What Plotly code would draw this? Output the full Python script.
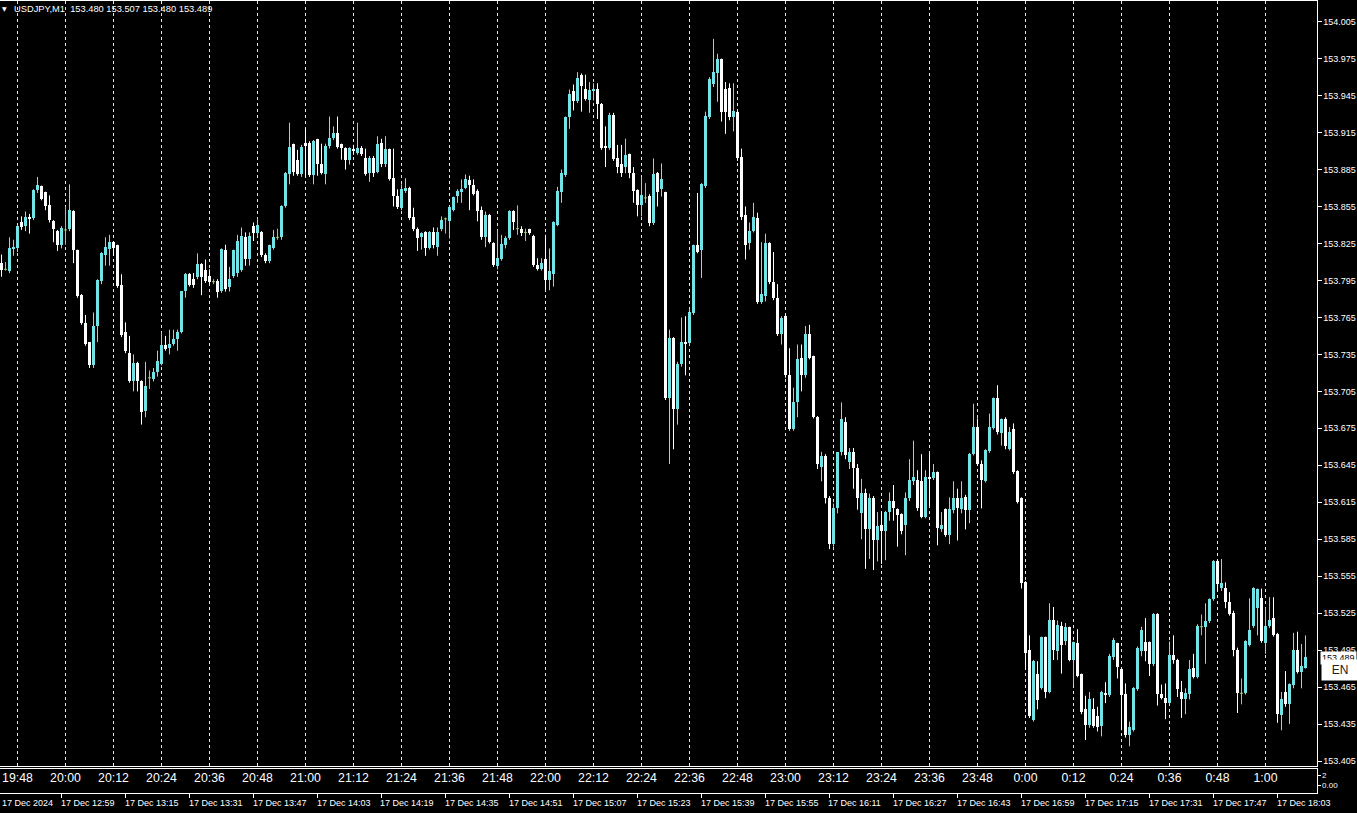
import numpy as np
import pandas as pd
import plotly.graph_objects as go

symbol = "USDJPY,M1"
first_bar_time = "2024-12-17 12:44"
local_offset_hours = 7

opens = [
153.809,153.804,153.802,153.820,153.821,153.842,153.839,153.846,153.845,153.868,
153.871,153.866,153.856,153.843,153.835,153.823,153.836,153.836,153.851,153.819,
153.783,153.760,153.745,153.726,153.758,153.794,153.815,153.820,153.826,153.823,
153.791,153.753,153.736,153.713,153.728,153.713,153.689,153.716,153.715,153.720,
153.727,153.742,153.740,153.743,153.747,153.753,153.786,153.800,153.796,153.797,
153.808,153.803,153.798,153.794,153.794,153.786,153.819,153.789,153.798,153.801,
153.803,153.830,153.812,153.839,153.833,153.834,153.815,153.810,153.821,153.830,
153.830,153.855,153.881,153.905,153.892,153.881,153.906,153.906,153.880,153.909,
153.889,153.881,153.904,153.910,153.914,153.905,153.902,153.892,153.901,153.898,
153.902,153.894,153.882,153.894,153.883,153.906,153.889,153.901,153.878,153.863,
153.853,153.867,153.870,153.846,153.836,153.830,153.834,153.821,153.834,153.822,
153.836,153.845,153.843,153.852,153.863,153.866,153.870,153.876,153.872,153.867,
153.852,153.830,153.848,153.825,153.806,153.812,153.823,153.829,153.851,153.837,
153.836,153.834,153.836,153.831,153.807,153.804,153.812,153.795,153.800,153.840,
153.866,153.880,153.927,153.948,153.940,153.961,153.950,153.941,153.949,153.950,
153.938,153.904,153.902,153.929,153.894,153.889,153.887,153.897,153.882,153.868,
153.856,153.862,153.863,153.841,153.882,153.869,153.866,153.699,153.748,153.690,
153.727,153.745,153.744,153.768,153.823,153.819,153.871,153.927,153.954,153.963,
153.974,153.950,153.951,153.927,153.931,153.895,153.848,153.825,153.835,153.845,
153.777,153.782,153.825,153.793,153.780,153.751,153.766,153.718,153.674,153.696,
153.732,153.718,153.751,153.733,153.684,153.643,153.652,153.618,153.581,153.610,
153.655,153.680,153.647,153.655,153.642,153.606,153.622,153.593,153.618,153.584,
153.596,153.591,153.607,153.616,153.609,153.605,153.596,153.618,153.632,153.633,
153.632,153.603,153.635,153.634,153.639,153.593,153.609,153.588,153.608,153.618,
153.609,153.619,153.608,153.654,153.676,153.646,153.632,153.656,153.675,153.699,
153.671,153.682,153.658,153.674,153.640,153.618,153.550,153.495,153.438,153.475,
153.464,153.505,153.461,153.519,153.494,153.514,153.502,153.513,153.487,153.500,
153.475,153.447,153.434,153.447,153.441,153.433,153.460,153.458,153.489,153.500,
153.479,153.459,153.426,153.430,153.463,153.494,153.501,153.501,153.483,153.524,
153.459,153.456,153.452,153.491,153.487,153.461,153.455,153.459,153.480,153.473,
153.514,153.513,153.518,153.536,153.567,153.545,153.545,153.534,153.525,153.495,
153.460,153.460,153.499,153.514,153.529,153.537,153.500,153.514,153.521,153.508,
153.442,153.461,153.451,153.466,153.495,153.477,153.480]

highs = [
153.816,153.810,153.830,153.828,153.840,153.847,153.851,153.849,153.869,153.879,
153.872,153.867,153.864,153.844,153.836,153.839,153.855,153.873,153.852,153.820,
153.784,153.767,153.745,153.769,153.796,153.818,153.830,153.832,153.827,153.824,
153.800,153.761,153.750,153.735,153.729,153.714,153.729,153.722,153.724,153.738,
153.753,153.750,153.755,153.755,153.755,153.786,153.801,153.801,153.801,153.817,
153.809,153.812,153.804,153.796,153.796,153.821,153.824,153.806,153.820,153.832,
153.838,153.834,153.834,153.842,153.846,153.835,153.817,153.824,153.836,153.837,
153.856,153.883,153.923,153.906,153.901,153.905,153.918,153.908,153.909,153.910,
153.906,153.906,153.928,153.920,153.928,153.906,153.903,153.903,153.905,153.923,
153.904,153.902,153.896,153.896,153.912,153.910,153.912,153.902,153.902,153.869,
153.873,153.878,153.871,153.854,153.838,153.834,153.835,153.835,153.838,153.838,
153.847,153.846,153.855,153.863,153.869,153.877,153.881,153.880,153.877,153.869,
153.855,153.851,153.849,153.826,153.836,153.832,153.831,153.852,153.852,153.856,
153.839,153.837,153.837,153.832,153.813,153.813,153.832,153.821,153.843,153.871,
153.885,153.928,153.950,153.954,153.964,153.963,153.962,153.956,153.955,153.955,
153.939,153.920,153.931,153.931,153.905,153.905,153.910,153.898,153.887,153.869,
153.879,153.874,153.865,153.894,153.883,153.890,153.867,153.755,153.749,153.729,
153.765,153.766,153.772,153.824,153.866,153.874,153.932,153.960,153.991,153.979,
153.975,153.956,153.955,153.955,153.933,153.902,153.855,153.842,153.858,153.850,
153.826,153.833,153.826,153.818,153.792,153.766,153.767,153.740,153.708,153.743,
153.743,153.758,153.759,153.734,153.685,153.656,153.654,153.620,153.614,153.655,
153.696,153.684,153.659,153.659,153.646,153.634,153.626,153.622,153.620,153.607,
153.607,153.608,153.623,153.629,153.610,153.606,153.623,153.650,153.665,153.641,
153.654,153.641,153.655,153.646,153.640,153.607,153.610,153.619,153.632,153.626,
153.632,153.621,153.655,153.695,153.683,153.649,153.658,153.687,153.700,153.710,
153.683,153.684,153.676,153.679,153.641,153.619,153.551,153.507,153.487,153.486,
153.506,153.506,153.533,153.530,153.519,153.518,153.517,153.514,153.502,153.512,
153.476,153.458,153.461,153.456,153.449,153.462,153.469,153.492,153.505,153.501,
153.480,153.468,153.437,153.465,153.498,153.514,153.521,153.502,153.525,153.525,
153.467,153.468,153.502,153.507,153.488,153.470,153.464,153.487,153.492,153.516,
153.524,153.533,153.537,153.568,153.568,153.569,153.550,153.542,153.527,153.497,
153.472,153.503,153.537,153.546,153.545,153.545,153.529,153.538,153.538,153.509,
153.461,153.478,153.468,153.509,153.510,153.500,153.507]

lows = [
153.798,153.803,153.801,153.815,153.818,153.836,153.835,153.833,153.844,153.866,
153.860,153.852,153.842,153.826,153.819,153.821,153.824,153.835,153.809,153.781,
153.759,153.742,153.724,153.724,153.745,153.792,153.807,153.807,153.815,153.789,
153.749,153.736,153.712,153.705,153.705,153.678,153.684,153.707,153.713,153.717,
153.726,153.738,153.735,153.742,153.738,153.752,153.781,153.790,153.789,153.796,
153.783,153.793,153.792,153.792,153.781,153.785,153.786,153.786,153.797,153.798,
153.802,153.807,153.807,153.827,153.831,153.814,153.809,153.809,153.820,153.828,
153.828,153.854,153.873,153.880,153.880,153.879,153.879,153.879,153.873,153.880,
153.881,153.873,153.902,153.909,153.902,153.893,153.885,153.889,153.897,153.897,
153.896,153.880,153.875,153.879,153.882,153.887,153.887,153.876,153.855,153.853,
153.852,153.866,153.844,153.835,153.819,153.820,153.815,153.820,153.821,153.815,
153.835,153.833,153.829,153.851,153.858,153.858,153.869,153.852,153.864,153.843,
153.828,153.822,153.825,153.806,153.804,153.811,153.821,153.828,153.836,153.832,
153.831,153.827,153.832,153.806,153.803,153.803,153.788,153.787,153.790,153.839,
153.858,153.879,153.918,153.933,153.939,153.932,153.941,153.931,153.941,153.926,
153.901,153.887,153.901,153.892,153.882,153.879,153.882,153.878,153.858,153.847,
153.847,153.858,153.839,153.840,153.855,153.863,153.698,153.646,153.658,153.678,
153.725,153.718,153.743,153.767,153.817,153.797,153.870,153.926,153.952,153.940,
153.924,153.914,153.925,153.916,153.892,153.844,153.812,153.820,153.834,153.776,
153.776,153.778,153.792,153.779,153.750,153.743,153.716,153.673,153.673,153.684,
153.705,153.716,153.731,153.683,153.642,153.632,153.614,153.577,153.579,153.606,
153.653,153.650,153.642,153.626,153.609,153.585,153.561,153.569,153.560,153.567,
153.565,153.568,153.600,153.600,153.579,153.589,153.572,153.616,153.629,153.608,
153.602,153.602,153.612,153.633,153.580,153.591,153.587,153.581,153.606,153.584,
153.606,153.593,153.598,153.653,153.645,153.610,153.631,153.655,153.674,153.670,
153.661,153.658,153.657,153.638,153.614,153.545,153.479,153.440,153.437,153.447,
153.463,153.456,153.460,153.487,153.487,153.476,153.499,153.486,153.466,153.473,
153.443,153.422,153.432,153.432,153.429,153.425,153.452,153.457,153.487,153.472,
153.430,153.424,153.417,153.429,153.462,153.490,153.486,153.474,153.482,153.450,
153.455,153.439,153.451,153.484,153.457,153.440,153.443,153.455,153.472,153.472,
153.507,153.484,153.517,153.535,153.543,153.543,153.529,153.523,153.490,153.444,
153.451,153.459,153.498,153.513,153.507,153.501,153.492,153.513,153.506,153.436,
153.430,153.449,153.435,153.464,153.476,153.464,153.480]

closes = [
153.803,153.804,153.821,153.822,153.839,153.838,153.846,153.845,153.868,153.872,
153.861,153.855,153.844,153.836,153.823,153.837,153.836,153.852,153.819,153.782,
153.760,153.743,153.726,153.758,153.795,153.817,153.822,153.826,153.821,153.790,
153.750,153.737,153.713,153.728,153.713,153.688,153.709,153.716,153.720,153.729,
153.742,153.739,153.743,153.747,153.753,153.786,153.800,153.791,153.791,153.808,
153.797,153.794,153.793,153.794,153.785,153.820,153.788,153.796,153.819,153.827,
153.831,153.812,153.831,153.833,153.840,153.815,153.810,153.823,153.830,153.830,
153.855,153.882,153.903,153.883,153.881,153.903,153.904,153.880,153.908,153.889,
153.882,153.904,153.910,153.914,153.903,153.902,153.892,153.902,153.900,153.902,
153.897,153.881,153.894,153.882,153.905,153.889,153.901,153.877,153.863,153.854,
153.869,153.870,153.845,153.836,153.829,153.833,153.821,153.834,153.823,153.834,
153.844,153.845,153.854,153.862,153.867,153.869,153.877,153.872,153.865,153.851,
153.830,153.848,153.826,153.807,153.813,153.824,153.829,153.851,153.842,153.837,
153.833,153.834,153.833,153.807,153.804,153.809,153.795,153.802,153.842,153.867,
153.882,153.927,153.946,153.940,153.959,153.952,153.942,153.949,153.950,153.938,
153.902,153.902,153.929,153.893,153.887,153.882,153.896,153.882,153.867,153.856,
153.864,153.862,153.841,153.881,153.866,153.877,153.699,153.748,153.690,153.727,
153.745,153.743,153.769,153.823,153.818,153.873,153.928,153.958,153.964,153.974,
153.931,153.931,153.927,153.932,153.894,153.846,153.823,153.835,153.846,153.777,
153.784,153.825,153.793,153.780,153.751,153.764,153.718,153.674,153.696,153.731,
153.718,153.751,153.732,153.684,153.646,153.652,153.618,153.581,153.610,153.655,
153.682,153.653,153.655,153.642,153.618,153.622,153.593,153.618,153.584,153.595,
153.591,153.607,153.616,153.610,153.604,153.591,153.618,153.633,153.635,153.610,
153.603,153.635,153.634,153.639,153.594,153.596,153.588,153.609,153.618,153.610,
153.618,153.608,153.654,153.676,153.646,153.633,153.657,153.676,153.699,153.672,
153.682,153.660,153.672,153.639,153.615,153.549,153.492,153.441,153.486,153.454,
153.505,153.461,153.519,153.495,153.515,153.499,153.513,153.487,153.501,153.474,
153.444,153.434,153.455,153.433,153.432,153.461,153.458,153.490,153.503,153.481,
153.458,153.426,153.432,153.464,153.496,153.511,153.494,153.483,153.524,153.459,
153.456,153.452,153.491,153.487,153.463,153.455,153.460,153.479,153.473,153.514,
153.514,153.518,153.536,153.567,153.548,153.549,153.534,153.524,153.495,153.460,
153.460,153.502,153.511,153.545,153.544,153.502,153.514,153.519,153.507,153.443,
153.455,153.451,153.467,153.495,153.477,153.482,153.489]

price_tick_labels = ["153.405", "153.435", "153.465", "153.495", "153.525", "153.555",
                     "153.585", "153.615", "153.645", "153.675", "153.705", "153.735",
                     "153.765", "153.795", "153.825", "153.855", "153.885", "153.915",
                     "153.945", "153.975", "154.005"]

local_time_labels = ["19:48", "20:00", "20:12", "20:24", "20:36", "20:48", "21:00", "21:12",
                     "21:24", "21:36", "21:48", "22:00", "22:12", "22:24", "22:36", "22:48",
                     "23:00", "23:12", "23:24", "23:36", "23:48", "0:00", "0:12", "0:24",
                     "0:36", "0:48", "1:00"]

date_tick_times = ["2024-12-17 12:43", "2024-12-17 12:59", "2024-12-17 13:15", "2024-12-17 13:31",
                   "2024-12-17 13:47", "2024-12-17 14:03", "2024-12-17 14:19", "2024-12-17 14:35",
                   "2024-12-17 14:51", "2024-12-17 15:07", "2024-12-17 15:23", "2024-12-17 15:39",
                   "2024-12-17 15:55", "2024-12-17 16:11", "2024-12-17 16:27", "2024-12-17 16:43",
                   "2024-12-17 16:59", "2024-12-17 17:15", "2024-12-17 17:31", "2024-12-17 17:47",
                   "2024-12-17 18:03"]
date_tick_labels = ["17 Dec 2024", "17 Dec 12:59", "17 Dec 13:15", "17 Dec 13:31", "17 Dec 13:47",
                    "17 Dec 14:03", "17 Dec 14:19", "17 Dec 14:35", "17 Dec 14:51", "17 Dec 15:07",
                    "17 Dec 15:23", "17 Dec 15:39", "17 Dec 15:55", "17 Dec 16:11", "17 Dec 16:27",
                    "17 Dec 16:43", "17 Dec 16:59", "17 Dec 17:15", "17 Dec 17:31", "17 Dec 17:47",
                    "17 Dec 18:03"]

sub_scale_values = [0, 2]
sub_scale_labels = ["0.00", "2"]

# ---------- styling ----------
BULL = "#72E3E6"
BEAR = "#FFFFFF"
DOJI = "#9CCB6E"
GRID = "#E8E6C4"
FRAME = "#FFFFFF"
TXT = "#FFFFFF"
FONT = "Liberation Sans"

W, HGT = 1357, 813
plot_right = 1316.5
main_top, main_bot = 1.5, 766.5
sub_top, sub_bot = 769.5, 793.5
date_label_y = 803.5

O = np.array(opens); Hh = np.array(highs); Ll = np.array(lows); C = np.array(closes)
Hh = np.maximum(Hh, np.maximum(O, C))
Ll = np.minimum(Ll, np.minimum(O, C))
n = len(C)
times = pd.date_range(first_bar_time, periods=n, freq="min")
idx = np.arange(n)
t0 = times[0]

local_times = times + pd.Timedelta(hours=local_offset_hours)
local_str = [f"{t.hour}:{t.minute:02d}" for t in local_times]
local_pos = [local_str.index(s) for s in local_time_labels]
date_pos = [(pd.Timestamp(s) - t0) / pd.Timedelta(minutes=1) for s in date_tick_times]

up = C > O
dn = C < O
dj = C == O
half = 0.375

fig = go.Figure()

def wick_trace(mask, color):
    xs, ys = [], []
    for k in idx[mask]:
        xs += [k, k, None]
        ys += [Ll[k], Hh[k], None]
    return go.Scatter(x=xs, y=ys, mode="lines", line=dict(color=color, width=1),
                      hoverinfo="skip", xaxis="x", yaxis="y")

for mask, col in [(up, BULL), (dn, BEAR)]:
    fig.add_trace(wick_trace(mask, col))
    fig.add_trace(go.Bar(x=idx[mask], y=np.abs(C - O)[mask], base=np.minimum(O, C)[mask],
                         width=2 * half, marker=dict(color=col, line=dict(width=0)),
                         hoverinfo="skip", xaxis="x", yaxis="y"))

fig.add_trace(wick_trace(dj, DOJI))
dx, dy = [], []
for k in idx[dj]:
    dx += [k - half, k + half, None]
    dy += [O[k], O[k], None]
fig.add_trace(go.Scatter(x=dx, y=dy, mode="lines", line=dict(color=DOJI, width=1),
                         hoverinfo="skip", xaxis="x", yaxis="y"))

# local time row in sub-window
fig.add_trace(go.Scatter(x=local_pos, y=[1.2] * len(local_pos), mode="text",
                         text=local_time_labels, cliponaxis=False,
                         textfont=dict(color=TXT, size=12.3, family=FONT),
                         hoverinfo="skip", xaxis="x2", yaxis="y2"))

p_top = 154.005 + (21.7 - main_top) / 1233.8
p_bot = 154.005 - (main_bot - 21.7) / 1233.8
xr = [-half, plot_right / 4 - half]

fig.update_layout(
    width=W, height=HGT, autosize=False, margin=dict(l=0, r=0, t=0, b=0, pad=0),
    paper_bgcolor="#000000", plot_bgcolor="#000000", showlegend=False,
    barmode="overlay", bargap=0,
    xaxis=dict(domain=[0, plot_right / W], range=xr, anchor="y",
               tickvals=local_pos, showticklabels=False, ticks="",
               showgrid=True, gridcolor=GRID, gridwidth=1, griddash="3px,3px",
               showline=True, linecolor=FRAME, linewidth=1, mirror=True, zeroline=False),
    yaxis=dict(domain=[1 - main_bot / HGT, 1 - main_top / HGT], range=[p_bot, p_top],
               anchor="x", side="right",
               tickvals=[float(s) for s in price_tick_labels], ticktext=price_tick_labels,
               ticks="outside", ticklen=4, tickcolor=FRAME, tickwidth=1,
               tickfont=dict(color=TXT, size=9, family=FONT),
               showgrid=False, showline=True, linecolor=FRAME, linewidth=1, zeroline=False),
    xaxis2=dict(domain=[0, plot_right / W], range=xr, anchor="y2",
                tickvals=date_pos, showticklabels=False,
                ticks="outside", ticklen=4, tickcolor=FRAME, tickwidth=1,
                showgrid=False, showline=True, linecolor=FRAME, linewidth=1, mirror=True,
                zeroline=False),
    yaxis2=dict(domain=[1 - sub_bot / HGT, 1 - sub_top / HGT], range=[-1.46, 3.34],
                anchor="x2", side="right",
                tickvals=sub_scale_values, ticktext=sub_scale_labels,
                ticks="outside", ticklen=3, tickcolor=FRAME,
                tickfont=dict(color=TXT, size=8, family=FONT),
                showgrid=False, showline=True, linecolor=FRAME, linewidth=1, zeroline=False),
)

ann = []
# server-time date labels, left-aligned at their tick (kept inside the picture)
px_per_bar = plot_right / (xr[1] - xr[0])
for p, s in zip(date_pos, date_tick_labels):
    px = max((p - xr[0]) * px_per_bar - 3, 0)
    ann.append(dict(x=px / W, y=1 - date_label_y / HGT, xref="paper", yref="paper",
                    text=s, showarrow=False, xanchor="left", yanchor="middle",
                    font=dict(color=TXT, size=9, family=FONT)))
ann.append(dict(x=4 / W, y=1 - 9 / HGT, xref="paper", yref="paper", text="▼",
                showarrow=False, xanchor="center", yanchor="middle",
                font=dict(color=TXT, size=6, family="DejaVu Sans")))
ann.append(dict(x=12 / W, y=1 - 9.5 / HGT, xref="paper", yref="paper",
                text=f"{symbol}  {O[-1]:.3f} {Hh[-1]:.3f} {Ll[-1]:.3f} {C[-1]:.3f}",
                showarrow=False, xanchor="left", yanchor="middle",
                font=dict(color=TXT, size=9.3, family=FONT)))
ann.append(dict(x=1320 / W, y=1 - 659 / HGT, xref="paper", yref="paper",
                text=f"{C[-1]:.3f}", showarrow=False, xanchor="left", yanchor="middle",
                bgcolor="#FFFFFF", borderpad=1,
                font=dict(color="#000000", size=9, family=FONT)))
ann.append(dict(x=1321 / W, y=1 - 670.5 / HGT, xref="paper", yref="paper",
                text="EN", showarrow=False, xanchor="left", yanchor="middle",
                width=36, height=20, bgcolor="#FFFFFF", borderpad=0,
                font=dict(color="#202020", size=12, family=FONT)))
fig.update_layout(annotations=ann)

post_js = ("document.documentElement.style.margin='0';"
           "document.documentElement.style.overflow='hidden';"
           "document.body.style.margin='0';"
           "document.body.style.overflow='hidden';"
           "var gd=document.getElementById('{plot_id}');"
           "Plotly.relayout(gd,'width',1357);"
           "Plotly.relayout(gd,'height',813);")

fig.write_html("out.html", post_script=post_js,
               config={"responsive": False, "displayModeBar": False})
